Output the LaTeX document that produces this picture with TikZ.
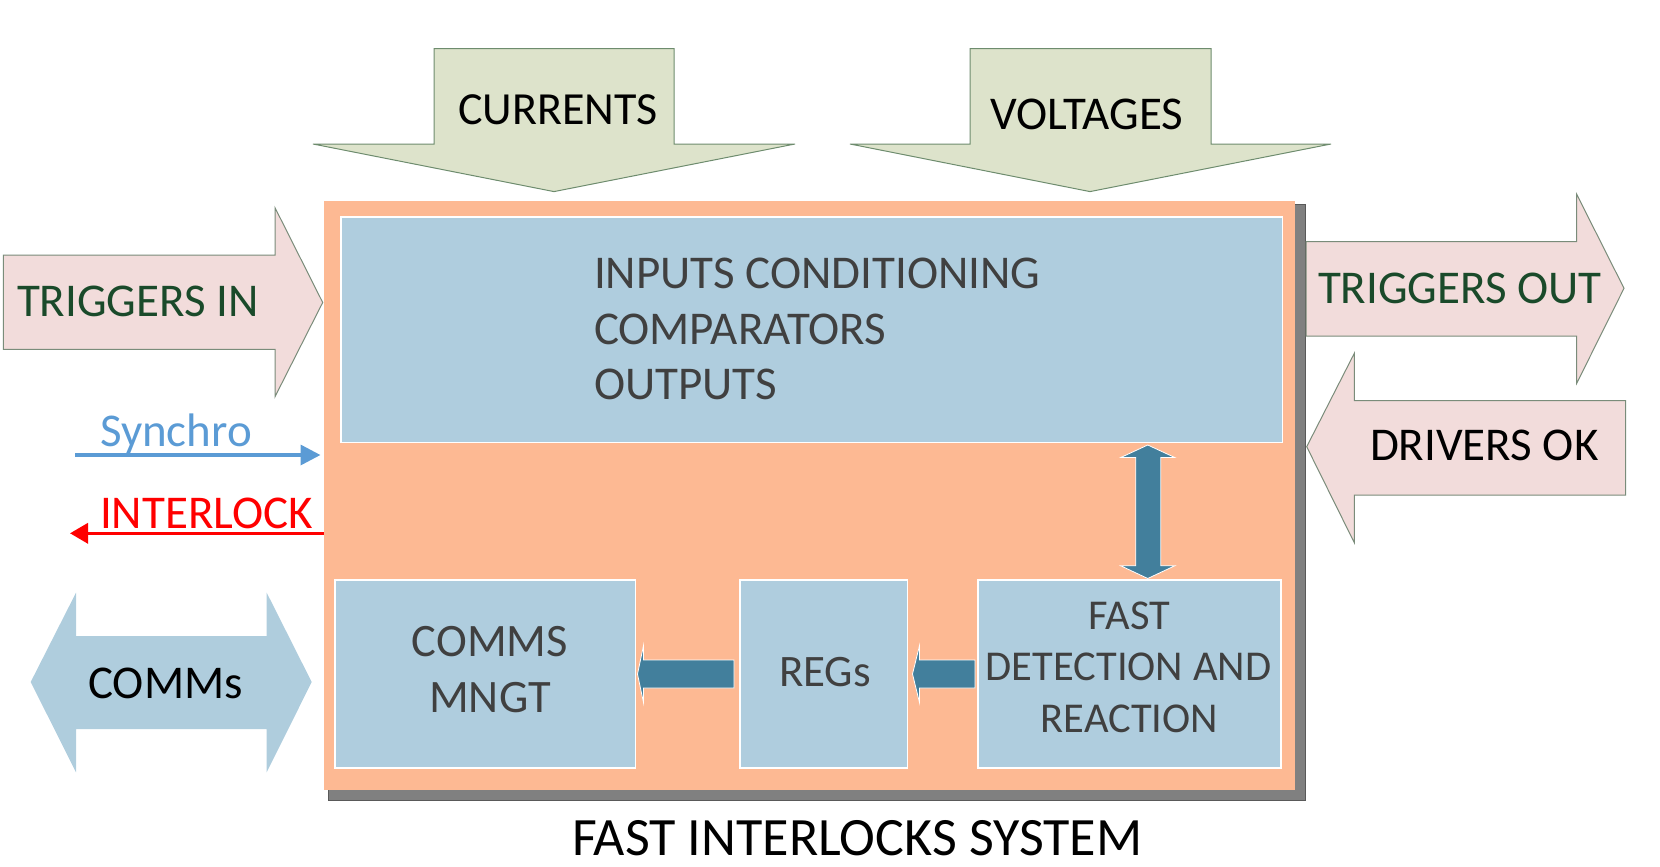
\documentclass[tikz,border=0pt]{standalone}
\usepackage{fontspec}
\setmainfont{Carlito}
\usetikzlibrary{arrows.meta,calc}
\newcommand\myfs[1]{\fontsize{#1pt}{#1pt}\selectfont}
\definecolor{pinkfill}{HTML}{F2DCDB}
\definecolor{pinkedge}{HTML}{7A8C7A}
\definecolor{greenfill}{HTML}{DDE3CB}
\definecolor{greenedge}{HTML}{6E8C6E}
\definecolor{orangefill}{HTML}{FDB993}
\definecolor{boxblue}{HTML}{AFCDDE}
\definecolor{tealarr}{HTML}{427F9C}
\definecolor{commblue}{HTML}{AFCDDD}
\definecolor{trigtext}{HTML}{1A4A2A}
\definecolor{boxtext}{HTML}{404040}
\definecolor{synchro}{HTML}{5B9BD5}
\definecolor{shadowgray}{HTML}{808080}
\begin{document}
\begin{tikzpicture}[x=1pt,y=-1pt,
  lbl/.style={inner sep=0pt,outer sep=0pt,anchor=base west,font=\myfs{47},text depth=0pt},
  clbl/.style={inner sep=0pt,outer sep=0pt,anchor=base,font=\myfs{46.5},text=boxtext,text depth=0pt},
  pinkarrow/.style={fill=pinkfill,draw=pinkedge,line width=1pt},
  greenarrow/.style={fill=greenfill,draw=greenedge,line width=1pt},
  bluebox/.style={fill=boxblue,draw=white,line width=1.5pt,anchor=north west,inner sep=0pt},
  tealblock/.style={fill=tealarr,draw=white,line width=0.8pt},
  sigline/.style={line width=3.5pt}]
\useasboundingbox (0,0) rectangle (1660,867);

% system frame with shadow
\draw[fill=shadowgray,draw=black!65,line width=1pt] (328,204) rectangle (1305,800);
\node[fill=orangefill,draw=none,anchor=north west,inner sep=0pt,minimum width=971.5pt,minimum height=589pt] (sys) at (323.5,201) {};

% inner blocks
\node[bluebox,minimum width=941.5pt,minimum height=225.5pt] (inbox) at (340,216) {};
\node[bluebox,minimum width=300.2pt,minimum height=188pt] (commsbox) at (334.3,579.3) {};
\node[bluebox,minimum width=167.7pt,minimum height=188pt] (regbox) at (739,579.3) {};
\node[bluebox,minimum width=302.6pt,minimum height=188pt] (fastbox) at (977.4,579.3) {};

\node[lbl,text=boxtext] (t1) at (594,288) {INPUTS CONDITIONING};
\node[lbl,text=boxtext] (t2) at (594,344) {COMPARATORS};
\node[lbl,text=boxtext] (t3) at (594,399) {OUTPUTS};
\node[clbl] (c1) at (490,656) {COMMS};
\node[clbl] (c2) at (490,712.7) {MNGT};
\node[clbl,font=\myfs{45}] (r1) at (825,686.7) {REGs};
\node[clbl,font=\myfs{42.5}] (f1) at (1129.5,629) {FAST};
\node[clbl,font=\myfs{42.5}] (f2) at (1128.5,680.7) {DETECTION AND};
\node[clbl,font=\myfs{42.5}] (f3) at (1129.5,732.3) {REACTION};

% internal block arrows
\coordinate (vtop) at ($(inbox.south)+(1147-810.75,2)$);
\draw[tealblock]
  (vtop) -- ++(27,12.5) -- ++(-14,0)
  -- ++(0,108.3) -- ++(14,0) -- ++(-27,12.7) -- ++(-27,-12.7) -- ++(15,0)
  -- ++(0,-108.3) -- ++(-15,0) -- cycle;
\draw[tealblock]
  ($(regbox.west)+(-5,-14)$) -- ($(commsbox.east)+(7.5,-14)$) -- ($(commsbox.east)+(7.5,-28.5)$)
  -- ($(commsbox.east)+(1.5,0)$) -- ($(commsbox.east)+(7.5,28.5)$) -- ($(commsbox.east)+(7.5,14)$)
  -- ($(regbox.west)+(-5,14)$) -- cycle;
\draw[tealblock]
  ($(fastbox.west)+(-2.4,-14)$) -- ($(regbox.east)+(11.3,-14)$) -- ($(regbox.east)+(11.3,-28.5)$)
  -- ($(regbox.east)+(4.3,0)$) -- ($(regbox.east)+(11.3,28.5)$) -- ($(regbox.east)+(11.3,14)$)
  -- ($(fastbox.west)+(-2.4,14)$) -- cycle;

% top inputs
\draw[greenarrow] (434,48.7) -- (674,48.7) -- (674,144) -- (795,144) -- (554,191.6) -- (313,144) -- (434,144) -- cycle;
\node[lbl,text=black,font=\myfs{46}] (cur) at (458,124) {CURRENTS};
\draw[greenarrow] (970,48.7) -- (1211,48.7) -- (1211,144) -- (1331,144) -- (1090,191.6) -- (850,144) -- (970,144) -- cycle;
\node[lbl,text=black] (vol) at (990,129) {VOLTAGES};

% left side
\draw[pinkarrow] (3.3,255) -- (275,255) -- (275,207.7) -- (322.7,302.5) -- (275,396.7) -- (275,349.3) -- (3.3,349.3) -- cycle;
\node[lbl,text=trigtext] (tin) at (17,316.7) {TRIGGERS IN};

\coordinate (synS) at (75,455);
\draw[synchro,sigline,-{Triangle[length=20pt,width=20pt]}] (synS) -- ([xshift=-3pt]synS -| sys.west);
\node[lbl,text=synchro] (syn) at (100,446.7) {Synchro};

\coordinate (ilkE) at (70,533.3);
\draw[red,sigline,-{Triangle[length=18pt,width=20pt]}] (ilkE -| sys.west) -- (ilkE);
\node[lbl,text=red] (ilk) at (100,528) {INTERLOCK};

\fill[commblue] (30.7,682) -- (76,592.7) -- (76,636) -- (266.7,636) -- (266.7,592.7) -- (311.7,682)
  -- (266.7,772.3) -- (266.7,729) -- (76,729) -- (76,772.3) -- cycle;
\node[lbl,text=black] (com) at (88.3,698.3) {COMMs};

% right side
\draw[pinkarrow] (1306,241.7) -- (1576.7,241.7) -- (1576.7,194.3) -- (1624,288.3) -- (1576.7,383.3) -- (1576.7,336) -- (1306,336) -- cycle;
\node[lbl,text=trigtext] (tout) at (1318,303.3) {TRIGGERS OUT};
\draw[pinkarrow] (1306.7,446.7) -- (1354.3,353.3) -- (1354.3,400.7) -- (1625.7,400.7) -- (1625.7,495) -- (1354.3,495) -- (1354.3,542.7) -- cycle;
\node[lbl,text=black] (drv) at (1370,460) {DRIVERS OK};

% title
\node[lbl,text=black,font=\myfs{54}] (title) at (572,855) {FAST INTERLOCKS SYSTEM};
\end{tikzpicture}
\end{document}
